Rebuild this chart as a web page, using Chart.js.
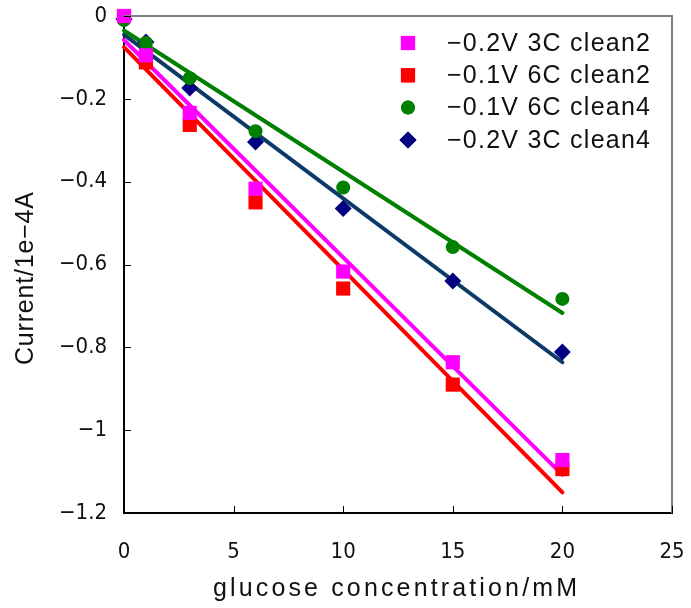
<!DOCTYPE html>
<html>
<head>
<meta charset="utf-8">
<script src="https://cdn.jsdelivr.net/npm/chart.js@4.4.1/dist/chart.umd.min.js"></script>
<style>
  html, body { margin: 0; padding: 0; background: #fff; }
  #wrap { width: 691px; height: 608px; }
</style>
</head>
<body>
<div id="wrap"><canvas id="glucoseChart" width="691" height="608"></canvas></div>
<script>
const seriesNames = ['−0.2V 3C clean2', '−0.1V 6C clean2', '−0.1V 6C clean4', '−0.2V 3C clean4'];
const conc = [0, 1, 3, 6, 10, 15, 20];
const magentaVals = [0, -0.095, -0.234, -0.417, -0.617, -0.836, -1.072];
const redVals = [0, -0.112, -0.263, -0.45, -0.658, -0.89, -1.094];
const greenVals = [-0.01, -0.065, -0.15, -0.278, -0.414, -0.558, -0.683];
const navyVals = [-0.007, -0.063, -0.174, -0.304, -0.465, -0.64, -0.811];

// linear fit lines, ends (x = 0 and x = 20)
const fitX = [0, 20];
const magentaFit = [-0.058, -1.108];
const redFit = [-0.075, -1.15];
const greenFit = [-0.035, -0.717];
const navyFit = [-0.045, -0.836];

const xTicks = [0, 5, 10, 15, 20, 25];
const yTicks = [0, -0.2, -0.4, -0.6, -0.8, -1, -1.2];
const xTitle = 'glucose concentration/mM';
const yTitle = 'Current/1e−4A';

const FONT = "'Liberation Sans Narrow', 'DejaVu Sans Condensed', 'Liberation Sans', sans-serif";
const TEXT_FONT = "'Liberation Sans', Arial, sans-serif";

const pts = (xs, ys) => xs.map((x, i) => ({ x: x, y: ys[i] }));

const fitLine = (ys, color) => ({
  type: 'line',
  data: pts(fitX, ys),
  borderColor: color,
  borderWidth: 4,
  borderCapStyle: 'round',
  pointRadius: 0,
  fill: false,
  clip: false,
  order: 2
});

const marks = (ys, color, style, r) => ({
  type: 'scatter',
  data: pts(conc, ys),
  backgroundColor: color,
  borderColor: color,
  borderWidth: 0,
  pointStyle: style,
  pointRadius: r,
  clip: false,
  order: 1
});

const markerSets = [
  marks(magentaVals, '#ff00ff', 'rect', 10),
  marks(redVals, '#ff0000', 'rect', 10),
  marks(greenVals, '#008000', 'circle', 7),
  marks(navyVals, '#000080', 'rectRot', 8.5)
];

// no extra room for overhanging tick labels, the frame is placed by layout padding
const noOverhang = s => {
  s.paddingTop = 0; s.paddingBottom = 0; s.paddingLeft = 0; s.paddingRight = 0;
};

// the original uses a wide-set font; spread letters to a given width
function spreadText(ctx, text, x, y, width) {
  ctx.letterSpacing = '0px';
  const w = ctx.measureText(text).width;
  const sp = Math.max(0, (width - w) / (text.length - 1));
  ctx.letterSpacing = sp + 'px';
  ctx.fillText(text, x, y);
  ctx.letterSpacing = '0px';
}

// inside tick marks, grey frame, legend, axis titles
const framePlugin = {
  id: 'frame',
  afterDraw(chart) {
    const { ctx, chartArea: a, scales } = chart;
    ctx.save();
    ctx.strokeStyle = '#808080';
    ctx.lineWidth = 2;
    ctx.beginPath();
    ctx.moveTo(a.left, a.top);
    ctx.lineTo(a.right, a.top);
    ctx.lineTo(a.right, a.bottom);
    ctx.stroke();

    ctx.strokeStyle = '#000';
    ctx.lineWidth = 1;
    ctx.beginPath();
    xTicks.forEach(v => {
      const px = Math.round(scales.x.getPixelForValue(v)) + 0.5;
      ctx.moveTo(px, a.bottom);
      ctx.lineTo(px, a.bottom - 7);
    });
    yTicks.forEach(v => {
      const py = Math.round(scales.y.getPixelForValue(v)) + 0.5;
      ctx.moveTo(a.left, py);
      ctx.lineTo(a.left + 7, py);
    });
    ctx.stroke();

    // legend
    const lx = 408, ly = 43, step = 32.3;
    ctx.font = '25px ' + TEXT_FONT;
    ctx.textBaseline = 'middle';
    ctx.textAlign = 'left';
    markerSets.forEach((ds, i) => {
      const y = ly + i * step;
      ctx.fillStyle = ds.backgroundColor;
      Chart.helpers.drawPoint(ctx, { pointStyle: ds.pointStyle, radius: ds.pointRadius, rotation: 0, borderWidth: 0 }, lx, y);
      ctx.fill();
      ctx.fillStyle = '#111';
      spreadText(ctx, seriesNames[i], 447, y + 1, 203);
    });

    // axis titles
    ctx.fillStyle = '#111';
    ctx.font = '25px ' + TEXT_FONT;
    ctx.textAlign = 'left';
    ctx.textBaseline = 'alphabetic';
    spreadText(ctx, xTitle, 213, 596, 364);

    ctx.save();
    ctx.translate(33, 365);
    ctx.rotate(-Math.PI / 2);
    spreadText(ctx, yTitle, 0, 0, 173);
    ctx.restore();

    ctx.restore();
  }
};

new Chart(document.getElementById('glucoseChart'), {
  data: {
    datasets: [
      fitLine(magentaFit, '#ff00ff'),
      fitLine(redFit, '#ff0000'),
      fitLine(greenFit, '#008000'),
      fitLine(navyFit, '#0b3a66'),
      ...markerSets
    ]
  },
  options: {
    responsive: false,
    animation: false,
    layout: { padding: { top: 16, right: 19, left: 0, bottom: 0 } },
    plugins: { legend: { display: false }, tooltip: { enabled: false } },
    scales: {
      x: {
        type: 'linear',
        min: 0,
        max: 25,
        afterBuildTicks: s => { s.ticks = xTicks.map(v => ({ value: v })); },
        afterFit: s => { s.height = 95; noOverhang(s); },
        grid: { display: false, drawTicks: false },
        border: { color: '#000', width: 2 },
        ticks: { color: '#111', font: { family: FONT, size: 22 }, padding: 26, maxRotation: 0 }
      },
      y: {
        type: 'linear',
        min: -1.2,
        max: 0,
        afterBuildTicks: s => { s.ticks = yTicks.map(v => ({ value: v })); },
        afterFit: s => { s.width = 124; noOverhang(s); },
        grid: { display: false, drawTicks: false },
        border: { color: '#000', width: 2 },
        ticks: {
          color: '#111',
          font: { family: FONT, size: 22 },
          padding: 17,
          callback: v => String(Math.round(v * 10) / 10).replace('-', '−')
        }
      }
    }
  },
  plugins: [framePlugin]
});
</script>
</body>
</html>
